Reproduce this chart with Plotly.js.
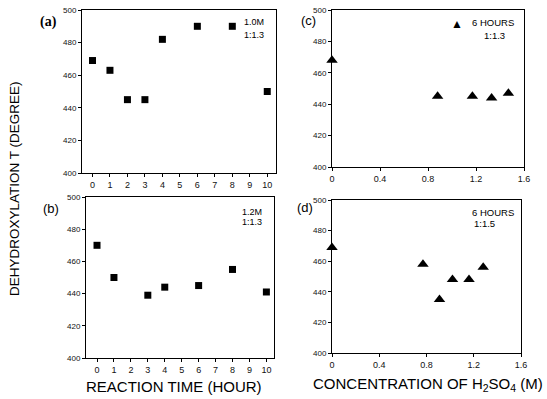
<!DOCTYPE html>
<html>
<head>
<meta charset="utf-8">
<script src="https://cdn.plot.ly/plotly-3.0.1.min.js"></script>
<style>html,body{margin:0;padding:0;background:#fff;}#chart{width:547px;height:399px;}</style>
</head>
<body>
<div id="chart"></div>
<script>
// ---- data ----
const timeA = [0, 1, 2, 3, 4, 6, 8, 10];
const tempA = [469, 463, 445, 445, 482, 490, 490, 450];
const timeB = [0, 1, 3, 4, 6, 8, 10];
const tempB = [470, 450, 439, 444, 445, 455, 441];
const concC = [0, 0.88, 1.17, 1.33, 1.47];
const tempC = [468, 445, 445, 444, 447];
const concD = [0, 0.77, 0.91, 1.02, 1.16, 1.28];
const tempD = [469, 458, 435, 448, 448, 456];
const timeTicks = [0, 1, 2, 3, 4, 5, 6, 7, 8, 9, 10];
const concTicks = [0, 0.4, 0.8, 1.2, 1.6];
const concTickText = ['0', '0.4', '0.8', '1.2', '1.6'];
const tempTicks = [400, 420, 440, 460, 480, 500];

const W = 547, H = 399;
const fx = p => p / W;
const fy = p => 1 - p / H;
const SANS = 'Liberation Sans, Arial, sans-serif';

const sq = {symbol: 'square', size: 7, color: '#000'};
const tri = {symbol: 'triangle-up', size: 10, color: '#000'};

const traces = [
  {x: timeA, y: tempA, xaxis: 'x', yaxis: 'y', mode: 'markers', marker: sq, cliponaxis: false},
  {x: timeB, y: tempB, xaxis: 'x2', yaxis: 'y2', mode: 'markers', marker: sq, cliponaxis: false},
  {x: concC, y: tempC, xaxis: 'x3', yaxis: 'y3', mode: 'markers', marker: tri, cliponaxis: false},
  {x: concD, y: tempD, xaxis: 'x4', yaxis: 'y4', mode: 'markers', marker: tri, cliponaxis: false}
];

function xax(dom, range, anchor, vals, text) {
  const a = {domain: dom, range: range, anchor: anchor, tickmode: 'array', tickvals: vals,
    showgrid: false, zeroline: false, showline: true, mirror: true, linecolor: '#000', linewidth: 1,
    ticks: 'outside', ticklen: 3, tickcolor: '#000', tickfont: {family: SANS, size: 9, color: '#111'}};
  if (text) a.ticktext = text;
  return a;
}
function yax(dom, anchor) {
  return {domain: dom, range: [400, 500], anchor: anchor, tickmode: 'array', tickvals: tempTicks,
    showgrid: false, zeroline: false, showline: true, mirror: true, linecolor: '#000', linewidth: 1,
    ticks: 'outside', ticklen: 3, tickcolor: '#000', tickfont: {family: SANS, size: 8, color: '#111'}};
}

function ann(text, x, y, size, extra) {
  return Object.assign({text: text, x: fx(x), y: fy(y), xref: 'paper', yref: 'paper',
    showarrow: false, xanchor: 'center', yanchor: 'middle',
    font: {family: SANS, size: size, color: '#000'}}, extra || {});
}

const layout = {
  width: W, height: H, margin: {l: 0, r: 0, t: 0, b: 0},
  paper_bgcolor: '#fff', plot_bgcolor: '#fff', showlegend: false,
  xaxis: xax([fx(82), fx(276)], [-0.6, 10.5], 'y', timeTicks),
  yaxis: yax([fy(173), fy(10)], 'x'),
  xaxis2: xax([fx(86), fx(274)], [-0.65, 10.45], 'y2', timeTicks),
  yaxis2: yax([fy(358), fy(197)], 'x2'),
  xaxis3: xax([fx(332), fx(524)], [0, 1.6], 'y3', concTicks, concTickText),
  yaxis3: yax([fy(167), fy(10)], 'x3'),
  xaxis4: xax([fx(332), fx(521)], [0, 1.6], 'y4', concTicks, concTickText),
  yaxis4: yax([fy(353), fy(200)], 'x4'),
  annotations: [
    ann('<b>(a)</b>', 48, 22, 14, {font: {family: 'Liberation Serif, serif', size: 14, color: '#000'}}),
    ann('(b)', 51, 208, 13),
    ann('(c)', 308, 21, 13),
    ann('(d)', 305, 207, 13),
    ann('1.0M', 254, 22.5, 9),
    ann('1:1.3', 254, 35, 9),
    ann('1.2M', 252, 211.5, 9),
    ann('1:1.3', 252, 222, 9),
    ann('▲', 457, 24, 12),
    ann('6 HOURS', 493, 22.5, 9.5),
    ann('1:1.3', 494, 35, 9.5),
    ann('6 HOURS', 493, 212, 9.5),
    ann('1:1.5', 485, 223, 9.5),
    ann('DEHYDROXYLATION T (DEGREE)', 15, 189, 13.5, {textangle: -90}),
    ann('REACTION TIME (HOUR)', 174, 386, 15),
    ann('CONCENTRATION OF H<sub>2</sub>SO<sub>4</sub> (M)', 428, 384, 15)
  ]
};

Plotly.newPlot('chart', traces, layout, {staticPlot: true, displayModeBar: false});
</script>
</body>
</html>
